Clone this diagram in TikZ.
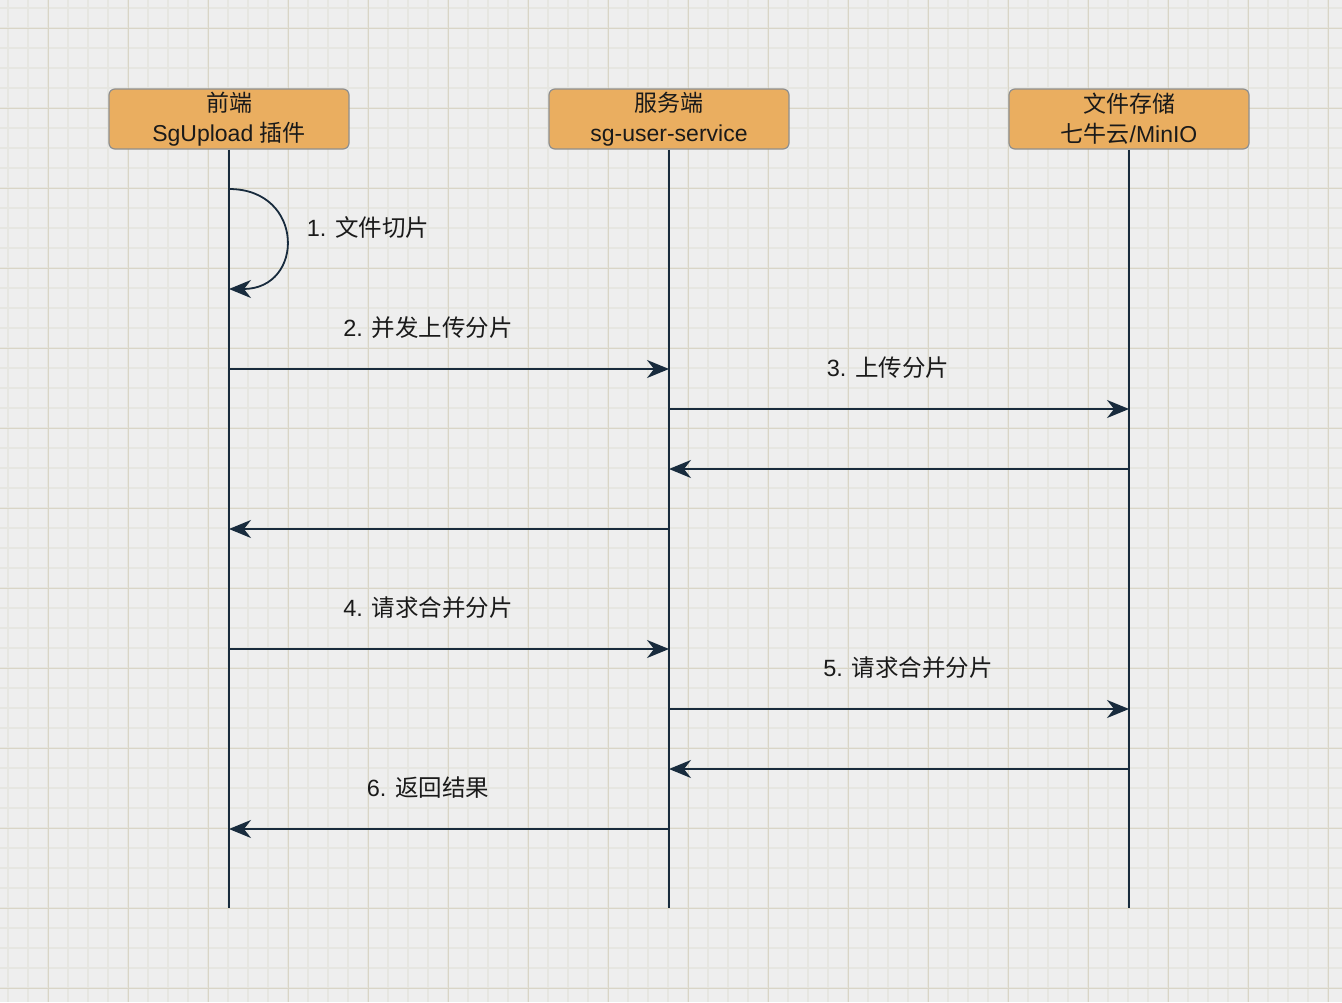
\documentclass[tikz,border=0pt]{standalone}
\usepackage{fontspec}
\setmainfont{Liberation Sans}
\newfontfamily\cjk{Noto Sans CJK SC}
\usetikzlibrary{arrows.meta}
\definecolor{bgc}{HTML}{EEEEEE}
\definecolor{minorc}{HTML}{E6E6E1}
\definecolor{majorc}{HTML}{D9D5C6}
\definecolor{boxfill}{HTML}{EAAE60}
\definecolor{boxline}{HTML}{8F8F8F}
\definecolor{ink}{HTML}{182B3D}
\definecolor{txt}{HTML}{1A1A1A}
\tikzset{
  actor/.style={draw=boxline, line width=1.2pt, fill=boxfill, rounded corners=6pt,
    minimum width=240pt, minimum height=60pt, inner sep=0pt, align=center,
    font=\fontsize{23}{30}\selectfont, text=txt},
  life/.style={draw=ink, line width=1.8pt},
  msg/.style={draw=ink, line width=1.8pt, -{Stealth[length=22pt,width=18pt,inset=7pt]}},
  lbl/.style={font=\fontsize{23.5}{26}\selectfont, text=txt, inner sep=0pt}
}
\begin{document}
\begin{tikzpicture}[x=1pt,y=-1pt]
\useasboundingbox (0,0) rectangle (1342,1002);
\fill[bgc] (0,0) rectangle (1342,1002);
\foreach \i in {0,...,67} {\draw[minorc, line width=1.6pt] (8+20*\i,0) -- (8+20*\i,1002);}
\foreach \i in {0,...,50} {\draw[minorc, line width=1.6pt] (0,8+20*\i) -- (1342,8+20*\i);}
\foreach \i in {0,...,16} {\draw[majorc, line width=1pt] (48+80*\i,0) -- (48+80*\i,1002);}
\foreach \i in {0,...,12} {\draw[majorc, line width=1pt] (0,28+80*\i) -- (1342,28+80*\i);}

\node[actor] (a) at (229,119) {{\cjk 前端}\\SgUpload {\cjk 插件}};
\node[actor] (b) at (669,119) {{\cjk 服务端}\\sg-user-service};
\node[actor] (c) at (1129,119) {{\cjk 文件存储}\\{\cjk 七牛云}/MinIO};

\coordinate (aend) at (229,908);
\coordinate (bend) at (669,908);
\coordinate (cend) at (1129,908);
\draw[life] (a.south -| aend) -- (aend);
\draw[life] (b.south -| bend) -- (bend);
\draw[life] (c.south -| cend) -- (cend);

% 1 self loop
\coordinate (s1) at (229,189);
\coordinate (s2) at (229,289);
\draw[msg] (s1) .. controls (305,189) and (305,289) .. (s2);
\node[lbl] (l1) at (368,228) {1. {\cjk 文件切片}};

% 2
\coordinate (a2) at (229,369); \coordinate (b2) at (669,369);
\draw[msg] (a2) -- (b2);
\node[lbl] (l2) at (428,328) {2. {\cjk 并发上传分片}};
% 3
\coordinate (b3) at (669,409); \coordinate (c3) at (1129,409);
\draw[msg] (b3) -- (c3);
\node[lbl] (l3) at (888,368) {3. {\cjk 上传分片}};
% returns
\coordinate (c4) at (1129,469); \coordinate (b4) at (669,469);
\draw[msg] (c4) -- (b4);
\coordinate (b5) at (669,529); \coordinate (a5) at (229,529);
\draw[msg] (b5) -- (a5);
% 4
\coordinate (a6) at (229,649); \coordinate (b6) at (669,649);
\draw[msg] (a6) -- (b6);
\node[lbl] (l4) at (428,608) {4. {\cjk 请求合并分片}};
% 5
\coordinate (b7) at (669,709); \coordinate (c7) at (1129,709);
\draw[msg] (b7) -- (c7);
\node[lbl] (l5) at (908,668) {5. {\cjk 请求合并分片}};
\coordinate (c8) at (1129,769); \coordinate (b8) at (669,769);
\draw[msg] (c8) -- (b8);
% 6
\coordinate (b9) at (669,829); \coordinate (a9) at (229,829);
\draw[msg] (b9) -- (a9);
\node[lbl] (l6) at (428,788) {6. {\cjk 返回结果}};
\end{tikzpicture}
\end{document}
